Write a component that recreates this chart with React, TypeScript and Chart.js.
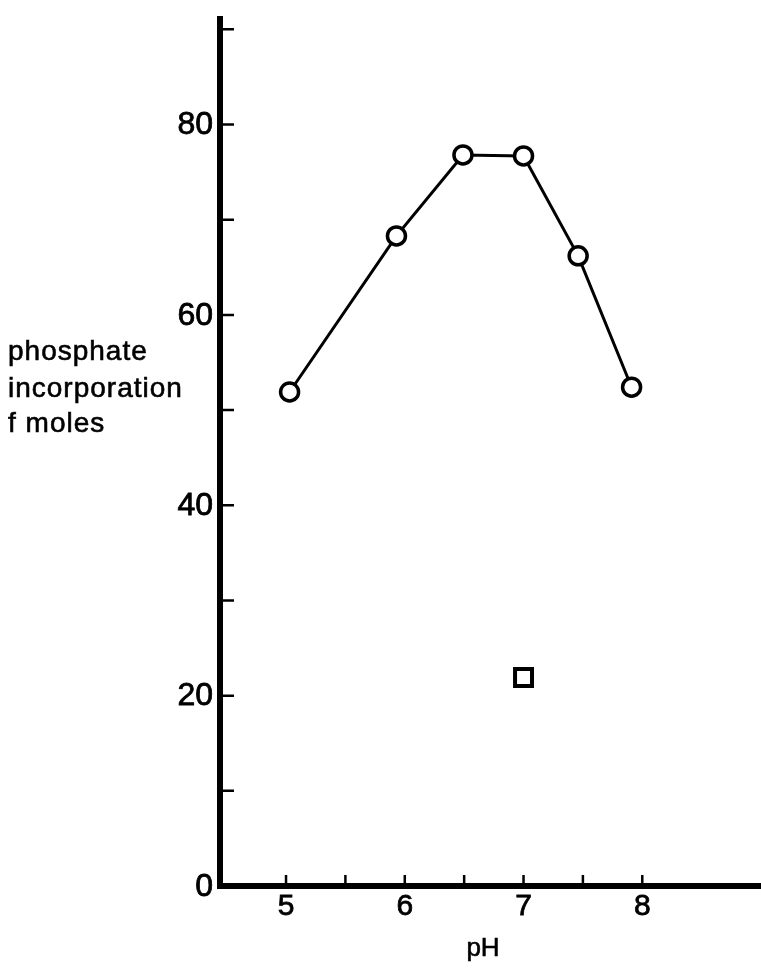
import React, { useEffect, useRef } from "react";
import { Chart, registerables } from "chart.js";

Chart.register(...registerables);

// ---- data ----
const phValues = [5.03, 5.93, 6.49, 7.0, 7.46, 7.91];
const incorporation = [51.9, 68.3, 76.8, 76.7, 66.2, 52.4];
const controlPh = [7.0];
const controlIncorporation = [21.9];
const yTickLabels = [0, 20, 40, 60, 80];
const yMinorTicks = [10, 30, 50, 70, 90];
const xTickLabels = [5, 6, 7, 8];
const xMinorTicks = [5.5, 6.5, 7.5];
const yAxisTitle = ["phosphate", "incorporation", "f moles"];
const xAxisTitle = "pH";

const FONT = "'Liberation Sans', Arial, Helvetica, sans-serif";

function inkText(ctx: CanvasRenderingContext2D, t: string, x: number, y: number) {
  ctx.fillText(t, x, y);
  ctx.strokeText(t, x, y);
}

const axesPlugin = {
  id: "paperAxes",
  afterDatasetsDraw(chart: any) {
    const ctx = chart.ctx as CanvasRenderingContext2D;
    const xs = chart.scales.x;
    const ys = chart.scales.y;
    const left = chart.chartArea.left;
    const bottom = chart.chartArea.bottom;
    const top = chart.chartArea.top;
    const right = chart.width;
    ctx.save();
    ctx.strokeStyle = "#000";
    ctx.fillStyle = "#000";
    // axis lines
    ctx.lineWidth = 6;
    ctx.lineCap = "butt";
    ctx.beginPath();
    ctx.moveTo(left, top);
    ctx.lineTo(left, bottom + 3);
    ctx.moveTo(left - 3, bottom);
    ctx.lineTo(right, bottom);
    ctx.stroke();

    // y ticks (inward)
    ctx.lineWidth = 2.5;
    ctx.beginPath();
    [...yTickLabels, ...yMinorTicks].forEach((v) => {
      if (v === 0) return;
      const py = ys.getPixelForValue(v);
      ctx.moveTo(left + 3, py);
      ctx.lineTo(left + 14, py);
    });
    // x ticks (inward)
    [...xTickLabels, ...xMinorTicks].forEach((v) => {
      const px = xs.getPixelForValue(v);
      ctx.moveTo(px, bottom - 3);
      ctx.lineTo(px, bottom - 11);
    });
    ctx.stroke();

    // tick labels
    ctx.lineWidth = 0.8;
    ctx.font = `32px ${FONT}`;
    ctx.textAlign = "right";
    ctx.textBaseline = "middle";
    yTickLabels.forEach((v) => {
      inkText(ctx, String(v), left - 7, ys.getPixelForValue(v) + 1);
    });
    ctx.font = `30px ${FONT}`;
    ctx.textAlign = "center";
    xTickLabels.forEach((v) => {
      inkText(ctx, String(v), xs.getPixelForValue(v), bottom + 21);
    });

    // axis titles
    ctx.lineWidth = 0.6;
    ctx.font = `26px ${FONT}`;
    ctx.textAlign = "center";
    inkText(ctx, xAxisTitle, 483, bottom + 63);

    ctx.font = `28px ${FONT}`;
    (ctx as any).letterSpacing = "1px";
    ctx.textAlign = "left";
    const lineY = [352, 389, 424];
    yAxisTitle.forEach((t, i) => inkText(ctx, t, 8, lineY[i]));
    ctx.restore();
  },
};

export default function App() {
  const ref = useRef<HTMLCanvasElement | null>(null);
  useEffect(() => {
    document.body.style.margin = "0";
    const canvas = ref.current!;
    const chart = new Chart(canvas, {
      type: "scatter",
      data: {
        datasets: [
          {
            label: "pH series",
            data: phValues.map((x, i) => ({ x, y: incorporation[i] })),
            showLine: true,
            borderColor: "#000",
            borderWidth: 3,
            pointStyle: "circle",
            pointRadius: 9,
            pointBorderWidth: 3.5,
            pointBackgroundColor: "#fff",
            pointBorderColor: "#000",
          },
          {
            label: "control",
            data: controlPh.map((x, i) => ({ x, y: controlIncorporation[i] })),
            showLine: false,
            pointStyle: "rect",
            pointRadius: 12,
            pointBorderWidth: 4,
            pointBackgroundColor: "#fff",
            pointBorderColor: "#000",
          },
        ],
      },
      options: {
        animation: false,
        responsive: false,
        devicePixelRatio: 1,
        layout: { padding: { left: 220, right: 0, top: 8, bottom: 83 } },
        plugins: { legend: { display: false }, tooltip: { enabled: false } },
        scales: {
          x: { type: "linear", display: false, min: 4.444, max: 8.865 },
          y: { type: "linear", display: false, min: 0, max: 91.4 },
        },
      },
      plugins: [axesPlugin],
    });
    return () => chart.destroy();
  }, []);
  return (
    <canvas
      ref={ref}
      width={761}
      height={969}
      style={{ display: "block", width: 761, height: 969 }}
    />
  );
}
